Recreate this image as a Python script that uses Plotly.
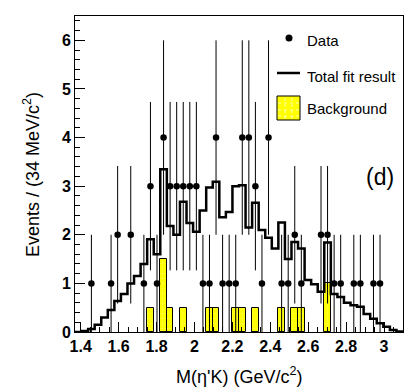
import numpy as np
import plotly.graph_objects as go

# ---------------- data (50 bins of ~34 MeV/c^2) ----------------
X_MIN, X_MAX, N_BINS = 1.37, 3.10, 50

data_counts = [0, 0, 1, 0, 0, 1, 2, 0, 2, 0,
               1, 3, 1, 4, 3, 3, 3, 3, 3, 1,
               1, 4, 1, 1, 1, 4, 4, 3, 1, 4,
               0, 1, 1, 2, 1, 0, 0, 2, 2, 1,
               1, 0, 1, 1, 0, 1, 1, 0, 0, 0]

fit_values = [0.00, 0.02, 0.06, 0.15, 0.30, 0.45, 0.64, 0.78, 1.00, 1.15,
              1.40, 1.91, 1.60, 3.35, 2.18, 2.00, 2.68, 2.24, 2.06, 2.50,
              2.97, 3.09, 2.36, 2.47, 3.00, 3.02, 2.15, 2.66, 2.10, 1.94,
              1.72, 2.25, 1.50, 1.85, 1.72, 1.07, 0.98, 0.83, 1.84, 0.78,
              0.72, 0.60, 0.55, 0.52, 0.37, 0.27, 0.18, 0.11, 0.04, 0.01]

bkg_values = [0, 0, 0, 0, 0, 0, 0, 0, 0, 0,
              0, 0.5, 0, 1.5, 0.5, 0, 0.5, 0, 0, 0,
              0.5, 0.5, 0, 0, 0.5, 0.5, 0, 0.5, 0, 0,
              0, 0.5, 0, 0.5, 0.5, 0, 0, 0, 1.0, 0,
              0, 0, 0, 0, 0, 0, 0, 0, 0, 0]

x_tick_vals = [1.4, 1.6, 1.8, 2.0, 2.2, 2.4, 2.6, 2.8, 3.0]
x_tick_text = ["1.4", "1.6", "1.8", "2", "2.2", "2.4", "2.6", "2.8", "3"]
y_tick_vals = [0, 1, 2, 3, 4, 5, 6]
y_tick_text = ["0", "1", "2", "3", "4", "5", "6"]

legend_labels = ["Data", "Total fit result", "Background"]
panel_label = "(d)"

# ---------------- derived ----------------
edges = np.linspace(X_MIN, X_MAX, N_BINS + 1)
centers = 0.5 * (edges[:-1] + edges[1:])
bw = edges[1] - edges[0]
counts = np.array(data_counts, dtype=float)
fit = np.array(fit_values, dtype=float)
bkg = np.array(bkg_values, dtype=float)

W, H = 411, 387
L, R, T, B = 75, 8, 16, 55
PW, PH = W - L - R, H - T - B
FONT = "Liberation Sans, Arial, Helvetica, sans-serif"


def px(xp):
    return (xp - L) / PW


def py(yp):
    return (H - B - yp) / PH


fig = go.Figure()

mb = bkg > 0
fig.add_trace(go.Bar(
    x=centers[mb], y=bkg[mb], width=bw,
    marker=dict(color="#ffff00", line=dict(color="black", width=1),
                pattern=dict(shape="+", fgcolor="white", bgcolor="#ffff00",
                             size=5, solidity=0.1)),
    name=legend_labels[2], showlegend=False))

fig.add_trace(go.Scatter(
    x=edges, y=np.append(fit, fit[-1]), mode="lines",
    line=dict(shape="hv", color="black", width=2.5),
    name=legend_labels[1], showlegend=False))

md = counts > 0
fig.add_trace(go.Scatter(
    x=centers[md], y=counts[md], mode="markers",
    marker=dict(color="black", size=6.5),
    error_y=dict(type="data", array=np.sqrt(counts[md]), width=0,
                 thickness=1, color="black"),
    name=legend_labels[0], showlegend=False))

axis_common = dict(showline=True, mirror=True, linecolor="black", linewidth=1,
                   ticks="inside", ticklen=10, tickcolor="black", tickwidth=1,
                   showgrid=False, zeroline=False,
                   tickfont=dict(family=FONT, size=16, color="black",
                                 weight="bold"))

fig.update_layout(
    width=W, height=H,
    margin=dict(l=L, r=R, t=T, b=B),
    plot_bgcolor="white", paper_bgcolor="white",
    bargap=0, showlegend=False,
    xaxis=dict(range=[X_MIN, X_MAX], tickmode="array",
               tickvals=x_tick_vals, ticktext=x_tick_text,
               minor=dict(ticks="inside", ticklen=5, dtick=0.05, tick0=1.4,
                          tickcolor="black"),
               **axis_common),
    yaxis=dict(range=[0, 6.5], tickmode="array",
               tickvals=y_tick_vals, ticktext=y_tick_text,
               minor=dict(ticks="inside", ticklen=5, dtick=0.2, tick0=0,
                          tickcolor="black"),
               **axis_common),
)

ann = [
    dict(text="Events / (34 MeV/c<sup>2</sup>)", x=px(31), y=py(175),
         textangle=-90, font=dict(size=18)),
    dict(text="M(η'K) (GeV/c<sup>2</sup>)", x=px(239), y=py(375),
         font=dict(size=18)),
    dict(text=panel_label, x=px(380), y=py(177), font=dict(size=23)),
    dict(text=legend_labels[0], x=px(305), y=py(41), xanchor="left",
         font=dict(size=15)),
    dict(text=legend_labels[1], x=px(305), y=py(76), xanchor="left",
         font=dict(size=15)),
    dict(text=legend_labels[2], x=px(305), y=py(108), xanchor="left",
         font=dict(size=15)),
]
for a in ann:
    a.setdefault("xanchor", "center")
    a.update(xref="paper", yref="paper", yanchor="middle", showarrow=False)
    a["font"].update(family=FONT, color="black")
fig.update_layout(annotations=ann)

shapes = [
    dict(type="circle", x0=px(285.5), x1=px(292.5), y0=py(34.5), y1=py(41.5),
         fillcolor="black", line=dict(color="black", width=0)),
    dict(type="line", x0=px(277), x1=px(300), y0=py(73), y1=py(73),
         line=dict(color="black", width=2.5)),
    dict(type="rect", x0=px(277), x1=px(300), y0=py(120), y1=py(96),
         fillcolor="#ffff00", line=dict(color="black", width=1)),
]
for gx in (285, 292):
    shapes.append(dict(type="line", x0=px(gx), x1=px(gx), y0=py(119), y1=py(97),
                       line=dict(color="white", width=0.7, dash="dot")))
for gy in (103, 110, 116):
    shapes.append(dict(type="line", x0=px(278), x1=px(299), y0=py(gy), y1=py(gy),
                       line=dict(color="white", width=0.7, dash="dot")))
for s in shapes:
    s.update(xref="paper", yref="paper")
fig.update_layout(shapes=shapes)

fig.write_html("out.html",
               config={"displayModeBar": False},
               post_script="document.body.style.margin='0';"
                           "document.body.style.padding='0';")
